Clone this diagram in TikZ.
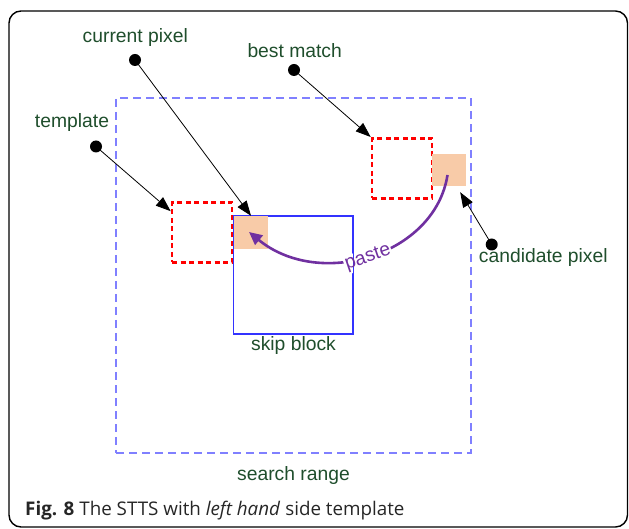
\documentclass[tikz,border=0pt]{standalone}
\usepackage{fontspec}
\setmainfont{Liberation Sans}
\newfontfamily\capfont{Open Sans}
\usetikzlibrary{arrows.meta}

\definecolor{labelgreen}{RGB}{31,78,44}
\definecolor{rangeblue}{RGB}{128,128,255}
\definecolor{skipblue}{RGB}{51,51,255}
\definecolor{peach}{RGB}{248,203,168}
\definecolor{pastepurple}{RGB}{112,48,160}

\tikzset{
  lbl/.style={text=labelgreen, font=\fontsize{19.3}{22}\selectfont, inner sep=0pt, anchor=base},
  pin/.style={circle, fill=black, minimum size=12pt, inner sep=0pt},
  pointer/.style={draw=black, line width=0.8pt, -{Triangle[length=15pt,width=11pt]}},
  tplbox/.style={draw=red, line width=2.6pt, dash pattern=on 5pt off 3.5pt, inner sep=0pt},
  pixbox/.style={fill=peach, inner sep=0pt, minimum width=34pt, minimum height=33pt},
  rangebox/.style={draw=rangeblue, line width=1.1pt, dash pattern=on 8pt off 5pt, inner sep=0pt},
  skipbox/.style={draw=skipblue, line width=1.4pt, inner sep=0pt},
  pastearrow/.style={draw=pastepurple, line width=2.6pt, -{Triangle[length=13pt,width=12pt]}},
  pastefont/.style={font=\fontsize{19.3}{22}\selectfont, inner sep=1pt, rotate=19},
}

\begin{document}
\begin{tikzpicture}[x=1pt,y=-1pt]
\useasboundingbox (0,0) rectangle (629,529);

% outer frame
\draw[line width=1.4pt, rounded corners=12pt] (9,11) rectangle (627.5,527);

% search range and skip block
\node[rangebox, minimum width=355pt, minimum height=355pt] (range) at (293.5,275.5) {};
\node[lbl] (rangelbl) at (293.5,480) {search range};
\node[skipbox, minimum width=119pt, minimum height=118pt] (skip) at (293,275) {};
\node[lbl] (skiplbl) at (293.5,350.5) {skip block};

% template and current pixel
\node[tplbox, minimum width=60pt, minimum height=60pt] (tpl) at (202,232.5) {};
\node[pixbox] (cur) at (251,232.5) {};

% best match and candidate pixel
\node[tplbox, minimum width=60pt, minimum height=60pt] (bm) at (402,168.3) {};
\node[pixbox, minimum height=32pt] (cand) at (449,170) {};

% paste arc from candidate to current pixel, with a gap for its label
\coordinate (pastefrom) at (447.5,175);
\coordinate (pasteto) at (249,232);
\draw[pastearrow] (pastefrom) .. controls (435,255) and (320,290) .. (pasteto);
\node[pastefont, fill=white] (pastegap) at (368,258) {\phantom{paste}};
% the skip block's right edge runs on through the gap
\draw[draw=skipblue, line width=1.4pt] (skip.north east) -- (skip.south east);
\node[pastefont, text=pastepurple] (pastelbl) at (pastegap) {paste};

% labels with pins
\node[lbl] (curlbl) at (135.3,42.5) {current pixel};
\node[pin] (curpin) at (135,60) {};
\node[lbl] (bmlbl) at (294.7,57.5) {best match};
\node[pin] (bmpin) at (294,70) {};
\node[lbl] (tpllbl) at (72,128) {template};
\node[pin] (tplpin) at (96,146.5) {};
\node[lbl] (candlbl) at (543.3,262.5) {candidate pixel};
\node[pin] (candpin) at (491.7,244.5) {};

\draw[pointer] (curpin.center) -- (cur.north);
\draw[pointer] (bmpin.center) -- (bm.north west);
\draw[pointer] (tplpin.center) -- ([yshift=-10pt]tpl.north west);
\draw[pointer] (candpin.center) -- ([xshift=-6pt,yshift=-6pt]cand.south east);

% caption
\node[anchor=base west, inner sep=0pt, font=\capfont\fontsize{18.8}{22}\selectfont, text=black!85] (cap) at (25,515)
  {\textbf{Fig. 8} The STTS with \textit{left hand} side template};
\end{tikzpicture}
\end{document}
